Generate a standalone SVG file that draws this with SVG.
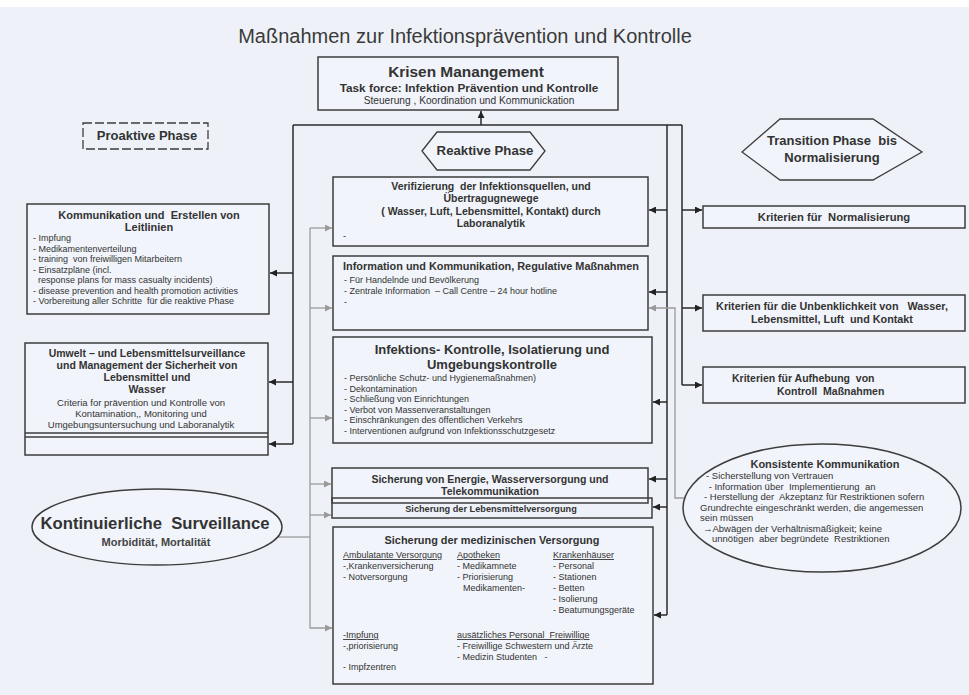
<svg xmlns="http://www.w3.org/2000/svg" width="969" height="695" viewBox="0 0 969 695">
<style>
text{font-family:"Liberation Sans",Arial,sans-serif;fill:#333;white-space:pre}
.b{font-weight:bold}
.c{text-anchor:middle}
.box{fill:#f1f4fa;stroke:#3d3d3d;stroke-width:1.5}
.ln{fill:none;stroke:#2a2a2a;stroke-width:1.5}
.gl{fill:none;stroke:#9a9a9a;stroke-width:1.3}
.sm{font-size:9.3px}
.k{font-size:9px}
.md{font-size:9.8px}
.u{text-decoration:underline}
</style>
<defs>
<marker id="a" viewBox="0 0 8 8" refX="8" refY="4" markerWidth="7" markerHeight="7" markerUnits="userSpaceOnUse" orient="auto"><path d="M0,0L8,4L0,8z" fill="#222"/></marker>
<marker id="g" viewBox="0 0 8 8" refX="8" refY="4" markerWidth="7" markerHeight="7" markerUnits="userSpaceOnUse" orient="auto"><path d="M0,0L8,4L0,8z" fill="#9a9a9a"/></marker>
</defs>
<rect x="0" y="0" width="969" height="695" fill="#ffffff"/>
<rect x="0" y="7" width="969" height="688" fill="#eef2f8"/>
<text x="465" y="43" class="c" style="font-size:20px;fill:#3a3a3a">Maßnahmen zur Infektionsprävention und Kontrolle</text>

<g id="connectors">
<path class="ln" d="M293,125H682"/>
<path class="ln" d="M481,125V111" marker-end="url(#a)"/>
<path class="ln" d="M293,125V444"/>
<path class="ln" d="M293,273H270" marker-end="url(#a)"/>
<path class="ln" d="M293,382H269" marker-end="url(#a)"/>
<path class="ln" d="M293,444H269" marker-end="url(#a)"/>
<path class="ln" d="M667,125V615"/>
<path class="ln" d="M667,210H649" marker-end="url(#a)"/>
<path class="ln" d="M667,292H649" marker-end="url(#a)"/>
<path class="ln" d="M667,402H653" marker-end="url(#a)"/>
<path class="ln" d="M667,479H649" marker-end="url(#a)"/>
<path class="ln" d="M667,507H653" marker-end="url(#a)"/>
<path class="ln" d="M667,615H654" marker-end="url(#a)"/>
<path class="ln" d="M682,125V385"/>
<path class="ln" d="M682,210H702" marker-end="url(#a)"/>
<path class="ln" d="M682,308H702" marker-end="url(#a)"/>
<path class="ln" d="M682,385H702" marker-end="url(#a)"/>
<path class="gl" d="M278,537H310"/>
<path class="gl" d="M310,228V628H332" marker-end="url(#g)"/>
<path class="gl" d="M310,228H332" marker-end="url(#g)"/>
<path class="gl" d="M310,308H332" marker-end="url(#g)"/>
<path class="gl" d="M310,418H332" marker-end="url(#g)"/>
<path class="gl" d="M310,484H331" marker-end="url(#g)"/>
<path class="gl" d="M310,515H331" marker-end="url(#g)"/>
<path class="gl" d="M685,498H675V308H649" marker-end="url(#g)"/>
</g>

<g id="krisen">
<rect class="box" x="318" y="57" width="300" height="53"/>
<text x="466" y="77" class="b c" style="font-size:15.4px">Krisen Manangement</text>
<text x="469" y="92" class="b c" style="font-size:11.8px">Task force: Infektion Prävention und Kontrolle</text>
<text x="469" y="104" class="c" style="font-size:10.2px">Steuerung , Koordination und Kommunickation</text>
</g>

<g id="proaktive">
<rect x="83" y="123" width="125" height="26" fill="none" stroke="#3d3d3d" stroke-width="1.3" stroke-dasharray="9,3"/>
<text x="147" y="140" class="b c" style="font-size:13px">Proaktive Phase</text>
</g>

<g id="kommunikation">
<rect class="box" x="27" y="204" width="242" height="110"/>
<text x="149" y="219" class="b c" style="font-size:11px">Kommunikation und  Erstellen von</text>
<text x="149" y="231" class="b c" style="font-size:11px">Leitlinien</text>
<text x="33" y="241" class="k">- Impfung</text>
<text x="33" y="251.5" class="k">- Medikamentenverteilung</text>
<text x="33" y="262" class="k">- training  von freiwilligen Mitarbeitern</text>
<text x="33" y="272.5" class="k">- Einsatzpläne (incl.</text>
<text x="33" y="283" class="k">  response plans for mass casualty incidents)</text>
<text x="33" y="293.5" class="k">- disease prevention and health promotion activities</text>
<text x="33" y="304" class="k">- Vorbereitung aller Schritte  für die reaktive Phase</text>
</g>

<g id="umwelt">
<rect class="box" x="25" y="343" width="243" height="112"/>
<line x1="25" y1="433" x2="268" y2="433" stroke="#3d3d3d" stroke-width="1.3"/>
<line x1="25" y1="437" x2="268" y2="437" stroke="#3d3d3d" stroke-width="1.3"/>
<text x="147" y="357" class="b c" style="font-size:10.5px">Umwelt – und Lebensmittelsurveillance</text>
<text x="147" y="369" class="b c" style="font-size:10.5px">und Management der Sicherheit von</text>
<text x="147" y="381" class="b c" style="font-size:10.5px">Lebensmittel und</text>
<text x="147" y="393" class="b c" style="font-size:10.5px">Wasser</text>
<text x="141" y="406" class="c" style="font-size:9.5px">Criteria for prävention und Kontrolle von</text>
<text x="141" y="417" class="c" style="font-size:9.5px">Kontamination,, Monitoring und</text>
<text x="141" y="428" class="c" style="font-size:9.5px">Umgebungsuntersuchung und Laboranalytik</text>
</g>

<g id="surveillance">
<ellipse cx="157" cy="527" rx="125" ry="38" fill="#f1f4fa" stroke="#3d3d3d" stroke-width="1.5"/>
<text x="155" y="529" class="b c" style="font-size:16.7px">Kontinuierliche  Surveillance</text>
<text x="156" y="546" class="b c" style="font-size:11px;fill:#444">Morbidität, Mortalität</text>
</g>

<g id="reaktive">
<polygon points="422,151 437,132 530,132 545,151 530,170 437,170" fill="#f1f4fa" stroke="#3d3d3d" stroke-width="1.3"/>
<text x="485" y="155" class="b c" style="font-size:13.2px">Reaktive Phase</text>
</g>

<g id="verifizierung">
<rect class="box" x="333" y="177" width="315" height="69"/>
<text x="491" y="190" class="b c" style="font-size:10.5px">Verifizierung  der Infektionsquellen, und</text>
<text x="491" y="202" class="b c" style="font-size:10.5px">Übertragugnewege</text>
<text x="491" y="215" class="b c" style="font-size:10.5px">( Wasser, Luft, Lebensmittel, Kontakt) durch</text>
<text x="491" y="227" class="b c" style="font-size:10.5px">Laboranalytik</text>
<text x="343" y="239" class="sm">-</text>
</g>

<g id="information">
<rect class="box" x="333" y="256" width="315" height="74"/>
<text x="343" y="270" class="b" style="font-size:10.9px">Information und Kommunikation, Regulative Maßnahmen</text>
<text x="344" y="283" class="k">- Für Handelnde und Bevölkerung</text>
<text x="344" y="294" class="k">- Zentrale Information  – Call Centre – 24 hour hotline</text>
<text x="344" y="305" class="k">-</text>
</g>

<g id="infektion">
<rect class="box" x="333" y="337" width="319" height="106"/>
<text x="492" y="354" class="b c" style="font-size:13px">Infektions- Kontrolle, Isolatierung und</text>
<text x="492" y="369" class="b c" style="font-size:13px">Umgebungskontrolle</text>
<text x="344" y="381" class="k">- Persönliche Schutz- und Hygienemaßnahmen)</text>
<text x="344" y="391.5" class="k">- Dekontamination</text>
<text x="344" y="402" class="k">- Schließung von Einrichtungen</text>
<text x="344" y="412.5" class="k">- Verbot von Massenveranstaltungen</text>
<text x="344" y="423" class="k">- Einschränkungen des öffentlichen Verkehrs</text>
<text x="344" y="433.5" class="k">- Interventionen aufgrund von Infektionsschutzgesetz</text>
</g>

<g id="energie">
<rect class="box" x="332" y="468" width="316" height="35"/>
<text x="490" y="483" class="b c" style="font-size:10.5px">Sicherung von Energie, Wasserversorgung und</text>
<text x="490" y="495" class="b c" style="font-size:10.5px">Telekommunikation</text>
</g>

<g id="lebensmittel">
<rect class="box" x="332" y="498" width="320" height="20" fill-opacity="0"/>
<text x="491" y="512" class="b c" style="font-size:9.2px">Sicherung der Lebensmittelversorgung</text>
</g>

<g id="medizin">
<rect class="box" x="333" y="527" width="320" height="157"/>
<text x="492" y="544" class="b c" style="font-size:10.9px">Sicherung der medizinischen Versorgung</text>
<text x="343" y="558" class="k u">Ambulatante Versorgung</text>
<text x="343" y="569" class="k">-,Krankenversicherung</text>
<text x="343" y="580" class="k">- Notversorgung</text>
<text x="457" y="558" class="k u">Apotheken</text>
<text x="457" y="569" class="k">- Medikamnete</text>
<text x="457" y="580" class="k">- Priorisierung</text>
<text x="463" y="591" class="k">Medikamenten-</text>
<text x="553" y="558" class="k u">Krankenhäuser</text>
<text x="553" y="569" class="k">- Personal</text>
<text x="553" y="580" class="k">- Stationen</text>
<text x="553" y="591" class="k">- Betten</text>
<text x="553" y="602" class="k">- Isolierung</text>
<text x="553" y="613" class="k">- Beatumungsgeräte</text>
<text x="343" y="638" class="k u">-Impfung</text>
<text x="343" y="649" class="k">-,priorisierung</text>
<text x="343" y="670" class="k">- Impfzentren</text>
<text x="457" y="638" class="k u">ausätzliches Personal  Freiwillige</text>
<text x="457" y="649" class="k">- Freiwillige Schwestern und Ärzte</text>
<text x="457" y="660" class="k">- Medizin Studenten   -</text>
</g>

<g id="transition">
<polygon points="742,152 780,119 873,119 922,152 873,180 780,180" fill="#f1f4fa" stroke="#3d3d3d" stroke-width="1.3"/>
<text x="832" y="145" class="b c" style="font-size:13px">Transition Phase  bis</text>
<text x="832" y="162" class="b c" style="font-size:13px">Normalisierung</text>
</g>

<g id="normalisierung">
<rect class="box" x="703" y="206" width="262" height="22"/>
<text x="834" y="221" class="b c" style="font-size:11.2px">Kriterien für  Normalisierung</text>
</g>

<g id="unbedenklichkeit">
<rect class="box" x="703" y="295" width="262" height="36"/>
<text x="832" y="310" class="b c" style="font-size:10.8px">Kriterien für die Unbenklichkeit von   Wasser,</text>
<text x="832" y="323" class="b c" style="font-size:10.8px">Lebensmittel, Luft  und Kontakt</text>
</g>

<g id="aufhebung">
<rect class="box" x="703" y="367" width="262" height="36"/>
<text x="732" y="382" class="b" style="font-size:10.5px">Kriterien für Aufhebung  von</text>
<text x="777" y="395" class="b" style="font-size:10.5px">Kontroll  Maßnahmen</text>
</g>

<g id="konsistente">
<ellipse cx="822" cy="508" rx="139" ry="64" fill="#f1f4fa" stroke="#3d3d3d" stroke-width="1.5"/>
<text x="825" y="468" class="b c" style="font-size:11px">Konsistente Kommunikation</text>
<text x="706" y="479" style="font-size:9.5px">- Sicherstellung von Vertrauen</text>
<text x="706" y="489.5" style="font-size:9.5px"> - Information über  Implementierung  an</text>
<text x="704" y="500" style="font-size:9.5px">- Herstellung der  Akzeptanz für Restriktionen sofern</text>
<text x="700" y="510.5" style="font-size:9.5px">Grundrechte eingeschränkt werden, die angemessen</text>
<text x="700" y="521" style="font-size:9.5px">sein müssen</text>
<text x="703" y="531.5" style="font-size:9.5px">→Abwägen der Verhältnismäßigkeit; keine</text>
<text x="712" y="542" style="font-size:9.5px">unnötigen  aber begründete  Restriktionen</text>
</g>
</svg>
